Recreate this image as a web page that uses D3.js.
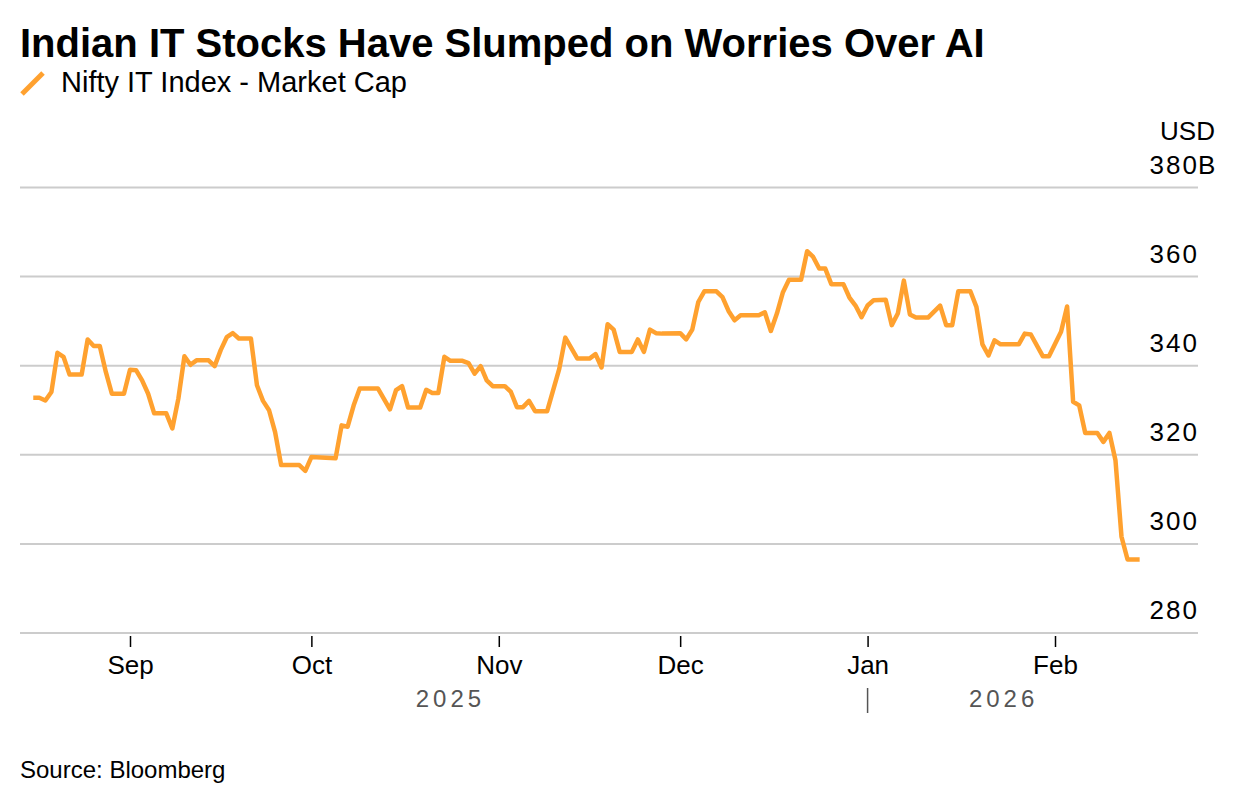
<!DOCTYPE html>
<html>
<head>
<meta charset="utf-8">
<script src="https://cdn.jsdelivr.net/npm/d3@7"></script>
<style>
  body { margin: 0; background: #fff; }
  svg { display: block; font-family: "Liberation Sans", Arial, Helvetica, sans-serif; }
</style>
</head>
<body>
<div id="chart"></div>
<script>
var width = 1236;
var height = 804;

var color = "#ffa12f";

// daily values (weekends carried)
var dates = [
  "2025-08-16","2025-08-17","2025-08-18","2025-08-19","2025-08-20","2025-08-21","2025-08-22","2025-08-24",
  "2025-08-25","2025-08-26","2025-08-27","2025-08-28","2025-08-29","2025-08-31",
  "2025-09-01","2025-09-02","2025-09-03","2025-09-04","2025-09-05","2025-09-07","2025-09-08","2025-09-09",
  "2025-09-10","2025-09-11","2025-09-12","2025-09-14","2025-09-15","2025-09-16","2025-09-17","2025-09-18",
  "2025-09-19","2025-09-21","2025-09-22","2025-09-23","2025-09-24","2025-09-25","2025-09-26","2025-09-29","2025-09-30",
  "2025-10-01","2025-10-05","2025-10-06","2025-10-07","2025-10-08","2025-10-09","2025-10-12","2025-10-14",
  "2025-10-15","2025-10-16","2025-10-17","2025-10-19","2025-10-20","2025-10-21","2025-10-22","2025-10-23",
  "2025-10-24","2025-10-26","2025-10-27","2025-10-28","2025-10-29","2025-10-30","2025-10-31",
  "2025-11-02","2025-11-03","2025-11-04","2025-11-05","2025-11-06","2025-11-07","2025-11-09","2025-11-11",
  "2025-11-12","2025-11-14","2025-11-16","2025-11-17","2025-11-18","2025-11-19","2025-11-20","2025-11-21",
  "2025-11-23","2025-11-24","2025-11-25","2025-11-26","2025-11-27","2025-11-28",
  "2025-12-01","2025-12-02","2025-12-03","2025-12-04","2025-12-05","2025-12-07","2025-12-08","2025-12-09",
  "2025-12-10","2025-12-11","2025-12-14","2025-12-15","2025-12-16","2025-12-17","2025-12-18","2025-12-19",
  "2025-12-21","2025-12-22","2025-12-23","2025-12-24","2025-12-25","2025-12-26","2025-12-28","2025-12-29",
  "2025-12-30","2025-12-31",
  "2026-01-01","2026-01-02","2026-01-04","2026-01-05","2026-01-06","2026-01-07","2026-01-08","2026-01-09",
  "2026-01-11","2026-01-13","2026-01-14","2026-01-15","2026-01-16","2026-01-18","2026-01-19","2026-01-20",
  "2026-01-21","2026-01-22","2026-01-23","2026-01-26","2026-01-27","2026-01-28","2026-01-30","2026-01-31",
  "2026-02-02","2026-02-03","2026-02-04","2026-02-05","2026-02-06","2026-02-08","2026-02-09","2026-02-10",
  "2026-02-11","2026-02-12","2026-02-13","2026-02-15"
];

var marketCap = [
  332.8,332.8,332.2,334.1,342.9,342.0,338.0,338.0,
  345.9,344.4,344.4,338.6,333.7,333.7,
  339.1,339.0,336.7,333.7,329.3,329.3,325.9,332.6,
  342.1,340.2,341.2,341.2,339.9,343.5,346.4,347.3,
  346.1,346.1,335.6,332.1,330.0,325.1,317.7,317.7,316.4,
  319.5,319.2,326.6,326.3,331.1,334.9,334.9,330.2,
  334.5,335.4,330.6,330.6,334.6,333.9,333.9,342.0,
  341.1,341.1,340.6,338.2,339.9,336.7,335.4,
  335.4,334.1,330.7,330.7,332.1,329.8,329.8,339.3,
  346.3,341.6,341.6,342.6,339.6,349.3,348.1,343.1,
  343.1,345.9,343.1,348.1,347.3,347.2,
  347.3,345.9,348.1,354.3,356.7,356.7,355.4,352.3,
  350.2,351.3,351.3,352.0,347.8,351.7,356.5,359.3,
  359.3,365.7,364.4,361.8,361.8,358.3,358.3,355.3,
  353.5,350.9,
  353.5,354.7,354.8,349.1,351.7,359.1,351.5,350.8,
  350.8,353.5,349.1,349.1,356.7,356.7,353.2,344.8,
  342.3,345.7,344.8,344.8,347.2,347.0,342.1,342.1,
  347.6,353.3,331.9,331.1,324.9,324.9,322.9,324.9,
  318.8,301.6,296.5,296.5
];

var yTicks = [280, 300, 320, 340, 360, 380];
var monthTicks = ["2025-09-01","2025-10-01","2025-11-01","2025-12-01","2026-01-01","2026-02-01"];
var yearBreak = "2026-01-01";

var parse = d3.utcParse("%Y-%m-%d");
var data = dates.map(function(d, i) { return { date: parse(d), value: marketCap[i] }; });

var left = 20, right = 1198;

var xScale = d3.scaleUtc()
  .domain([parse("2025-09-01"), parse("2026-02-01")])
  .range([130, 1055]);
var yScale = d3.scaleLinear().domain([280, 380]).range([633, 187.5]);

var svg = d3.select("#chart").append("svg")
  .attr("width", width)
  .attr("height", height);

// title + legend
svg.append("text")
  .attr("x", 20).attr("y", 57)
  .style("font-size", "40px").style("font-weight", "bold")
  .attr("fill", "#000")
  .text("Indian IT Stocks Have Slumped on Worries Over AI");

svg.append("line")
  .attr("x1", 22).attr("y1", 94).attr("x2", 43).attr("y2", 73)
  .attr("stroke", color).attr("stroke-width", 5);

svg.append("text")
  .attr("x", 61).attr("y", 92)
  .style("font-size", "29px")
  .attr("fill", "#000")
  .text("Nifty IT Index - Market Cap");

// grid
svg.append("g").selectAll("line")
  .data(yTicks)
  .enter()
  .append("line")
  .attr("x1", left).attr("x2", right)
  .attr("y1", function(d) { return yScale(d); })
  .attr("y2", function(d) { return yScale(d); })
  .attr("stroke", "#cccccc")
  .attr("stroke-width", 2);

// y labels sit on top of the grid lines, right side
svg.append("g").selectAll("text")
  .data(yTicks)
  .enter()
  .append("text")
  .attr("x", 1199)
  .attr("y", function(d) { return yScale(d) - 14; })
  .attr("text-anchor", "end")
  .style("font-size", "26px")
  .style("letter-spacing", "2px")
  .attr("fill", "#000")
  .text(function(d) { return d; });

svg.append("text")
  .attr("x", 1198).attr("y", yScale(380) - 14)
  .style("font-size", "26px")
  .attr("fill", "#000")
  .text("B");

svg.append("text")
  .attr("x", 1215).attr("y", 140)
  .attr("text-anchor", "end")
  .style("font-size", "26px")
  .attr("fill", "#000")
  .text("USD");

// x axis
var xAxis = d3.axisBottom(xScale)
  .tickValues(monthTicks.map(parse))
  .tickFormat(d3.utcFormat("%b"))
  .tickSize(11)
  .tickPadding(9);

var gx = svg.append("g")
  .attr("transform", "translate(0,636)")
  .call(xAxis);
gx.select(".domain").remove();
gx.selectAll(".tick line").attr("stroke", "#000").attr("stroke-width", 1.5);
gx.selectAll(".tick text")
  .style("font-size", "26px")
  .style("font-family", "'Liberation Sans', Arial, sans-serif")
  .attr("fill", "#000");

// year labels centred on the data span of each year
var xBreak = xScale(parse(yearBreak));
var xFirst = xScale(data[0].date);
var xLast = xScale(data[data.length - 1].date);

svg.append("line")
  .attr("x1", xBreak).attr("x2", xBreak)
  .attr("y1", 688).attr("y2", 713)
  .attr("stroke", "#555").attr("stroke-width", 1.5);

svg.append("g").selectAll("text")
  .data([["2025", (xFirst + xBreak) / 2], ["2026", (xBreak + xLast) / 2]])
  .enter()
  .append("text")
  .attr("x", function(d) { return d[1]; })
  .attr("y", 707)
  .attr("text-anchor", "middle")
  .style("font-size", "24px")
  .style("letter-spacing", "4px")
  .attr("fill", "#555")
  .text(function(d) { return d[0]; });

// the series
var line = d3.line()
  .x(function(d) { return xScale(d.date); })
  .y(function(d) { return yScale(d.value); });

svg.append("path")
  .datum(data)
  .attr("d", line)
  .attr("fill", "none")
  .attr("stroke", color)
  .attr("stroke-width", 4.5)
  .attr("stroke-linejoin", "round");

svg.append("text")
  .attr("x", 20).attr("y", 778)
  .style("font-size", "24px")
  .attr("fill", "#000")
  .text("Source: Bloomberg");
</script>
</body>
</html>
